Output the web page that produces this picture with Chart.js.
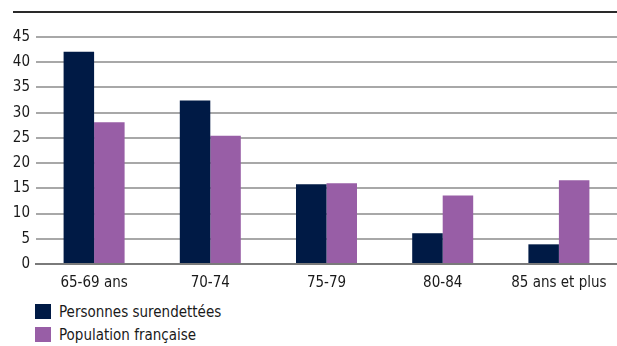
<!DOCTYPE html>
<html><head><meta charset="utf-8">
<script src="https://cdn.jsdelivr.net/npm/chart.js@4/dist/chart.umd.min.js"></script>
<style>
html,body{margin:0;padding:0;background:#fff;width:617px;height:346px;overflow:hidden;font-family:"DejaVu Sans Condensed",sans-serif;}
#wrap{position:absolute;left:0;top:0;width:617px;height:292px;}
#c{display:block;width:617px;height:292px;}
#topline{position:absolute;left:13px;top:11px;width:604px;height:2px;background:#2a2a2a;}
#legend{position:absolute;left:35px;top:300px;font-size:15px;color:#1a1a1a;}
.item{height:23px;display:flex;align-items:center;}
.sw{width:16px;height:15px;margin-right:8px;}
</style></head><body>
<div id="topline"></div>
<div id="wrap"><canvas id="c" width="617" height="292"></canvas></div>
<div id="legend"></div>
<script>
const categories = ["65-69 ans","70-74","75-79","80-84","85 ans et plus"];
const surendettees = [42.1, 32.4, 15.8, 6.1, 3.9];
const population = [28.1, 25.4, 16.0, 13.6, 16.6];
const seriesNames = ["Personnes surendettées","Population française"];
const colors = ["#001a45","#985ea6"];
const yTicks = [0,5,10,15,20,25,30,35,40,45];

const FONT = "'DejaVu Sans Condensed',sans-serif";
const chart = new Chart(document.getElementById('c'), {
  type:'bar',
  data:{labels:categories,datasets:[
    {label:seriesNames[0],data:surendettees,backgroundColor:colors[0],barPercentage:1,categoryPercentage:0.525},
    {label:seriesNames[1],data:population,backgroundColor:colors[1],barPercentage:1,categoryPercentage:0.525}
  ]},
  options:{
    responsive:false,maintainAspectRatio:false,animation:false,devicePixelRatio:1,
    layout:{padding:{top:37,left:0,right:0,bottom:0}},
    plugins:{legend:{display:false},tooltip:{enabled:false}},
    scales:{
      x:{grid:{display:false},border:{display:true,color:'#7a7a7a',width:2},
         ticks:{color:'#1a1a1a',font:{family:FONT,size:15},padding:2,maxRotation:0,autoSkip:false},
         afterFit:(s)=>{s.height=28;s.paddingLeft=0;s.paddingRight=0;}},
      y:{min:0,max:45,afterBuildTicks:(s)=>{s.ticks=yTicks.map(v=>({value:v}));},
         grid:{color:'#a8a8a8',lineWidth:2,drawTicks:false},border:{display:false},
         ticks:{color:'#1a1a1a',font:{family:FONT,size:15},padding:6},
         afterFit:(s)=>{s.width=36;}}
    }
  }
});
const lg=document.getElementById('legend');
seriesNames.forEach((n,i)=>{
  const d=document.createElement('div');d.className='item';
  d.innerHTML='<span class="sw" style="background:'+colors[i]+'"></span><span></span>';
  d.lastChild.textContent=n;lg.appendChild(d);
});
</script></body></html>
